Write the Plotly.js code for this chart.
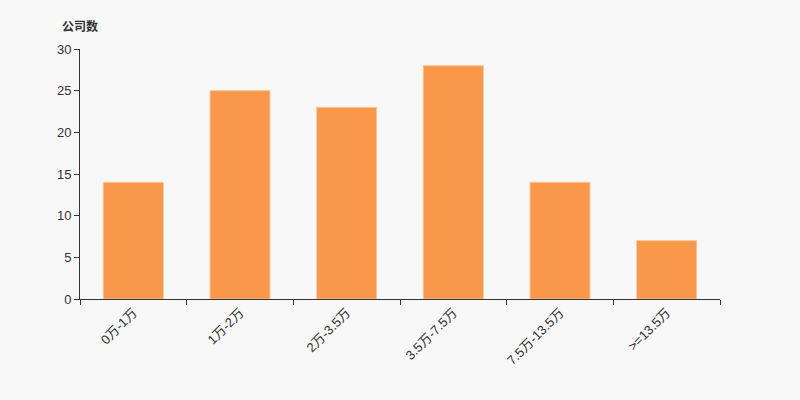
<!DOCTYPE html>
<html>
<head>
<meta charset="utf-8">
<script src="https://cdn.plot.ly/plotly-3.0.1.min.js"></script>
<style>
html,body{margin:0;padding:0;background:#f8f8f8;}
#chart{width:800px;height:400px;}
</style>
</head>
<body>
<div id="chart"></div>
<script>
var categories = ["0万-1万", "1万-2万", "2万-3.5万", "3.5万-7.5万", "7.5万-13.5万", ">=13.5万"];
var counts = [14, 25, 23, 28, 14, 7];
var yTicks = [0, 5, 10, 15, 20, 25, 30];

var fontFam = '"Liberation Sans", Arial, "Noto Sans CJK SC", sans-serif';

var trace = {
  type: 'bar',
  x: categories,
  y: counts,
  marker: {color: '#f9984a', line: {color: '#fbc49a', width: 1}},
  width: 0.5625,
  hoverinfo: 'x+y'
};

var layout = {
  width: 800,
  height: 400,
  paper_bgcolor: '#f8f8f8',
  plot_bgcolor: '#f8f8f8',
  margin: {l: 80, r: 80, t: 49, b: 101},
  showlegend: false,
  font: {family: fontFam, color: '#333', size: 12},
  xaxis: {
    type: 'category',
    showgrid: false,
    showline: true,
    linecolor: '#333',
    linewidth: 1,
    ticks: 'outside',
    tickson: 'boundaries',
    ticklen: 5,
    tickcolor: '#333',
    tickangle: -45,
    tickfont: {size: 13, color: '#333', family: fontFam},
    zeroline: false,
    fixedrange: true
  },
  yaxis: {
    range: [0, 30],
    tickvals: yTicks,
    ticktext: yTicks.map(String),
    showgrid: false,
    showline: true,
    linecolor: '#333',
    linewidth: 1,
    ticks: 'outside',
    ticklen: 5,
    tickcolor: '#333',
    tickfont: {size: 13, color: '#333', family: fontFam},
    zeroline: false,
    fixedrange: true
  },
  annotations: [{
    text: '<b>公司数</b>',
    xref: 'paper', yref: 'paper',
    x: -0.032, y: 1.088,
    xanchor: 'left', yanchor: 'middle',
    showarrow: false,
    font: {size: 12, color: '#333', family: fontFam}
  }]
};

Plotly.newPlot('chart', [trace], layout, {displayModeBar: false, staticPlot: true});
</script>
</body>
</html>
